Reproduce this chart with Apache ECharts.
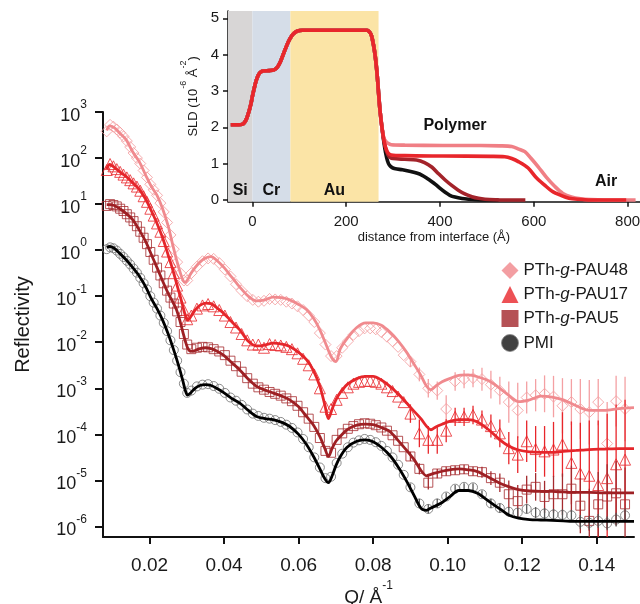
<!DOCTYPE html>
<html><head><meta charset="utf-8">
<script src="https://cdn.jsdelivr.net/npm/echarts@6/dist/echarts.min.js"></script>
<style>html,body{margin:0;padding:0;background:#fff}#c{width:640px;height:604px}</style>
</head><body><div id="c"></div>
<script>
// ---------------- main chart data ----------------
const qData = [0.0085,0.0094,0.0103,0.0112,0.0121,0.0130,0.0139,0.0148,0.0157,0.0166,0.0175,0.0184,0.0193,0.0202,0.0211,0.0220,0.0229,0.0238,0.0247,0.0256,0.0265,0.0274,0.0283,0.0292,0.0301,
0.0312,0.0327,0.0342,0.0357,0.0372,0.0387,0.0402,0.0417,0.0432,0.0447,0.0462,0.0477,0.0492,0.0507,0.0522,0.0537,0.0552,0.0567,0.0582,0.0597,0.0612,0.0627,0.0642,0.0657,0.0672,0.0687,0.0702,0.0717,0.0732,0.0747,0.0762,0.0777,0.0792,0.0807,0.0822,0.0837,0.0852,0.0867,0.0882,
0.0900,0.0924,0.0948,0.0972,0.0996,0.1020,0.1044,0.1068,0.1092,0.1116,0.1140,0.1164,0.1188,0.1212,0.1236,0.1260,0.1284,0.1308,0.1332,0.1356,0.1380,0.1404,0.1428,0.1452,0.1476];

const pau48Data = [3.80e2,5.25e2,4.79e2,4.17e2,3.55e2,2.95e2,2.34e2,1.74e2,1.29e2,1.00e2,7.59e1,5.37e1,3.80e1,2.69e1,2.04e1,1.55e1,1.05e1,6.76,3.98,2.14,1.05,5.50e-1,3.16e-1,2.19e-1,2.19e-1,
3.16e-1,4.37e-1,5.75e-1,6.61e-1,6.46e-1,5.25e-1,3.80e-1,2.69e-1,1.82e-1,1.32e-1,1.00e-1,8.32e-2,7.59e-2,7.94e-2,8.71e-2,8.51e-2,8.32e-2,7.59e-2,6.92e-2,6.03e-2,5.01e-2,3.80e-2,2.75e-2,1.58e-2,8.91e-3,5.01e-3,5.01e-3,7.59e-3,1.05e-2,1.45e-2,1.74e-2,2.00e-2,2.00e-2,1.91e-2,1.66e-2,1.32e-2,1.05e-2,7.94e-3,5.25e-3,
3.80e-3,2.00e-3,1.00e-3,8.91e-4,3.55e-4,1.41e-3,1.58e-3,1.66e-3,1.58e-3,1.20e-3,8.91e-4,5.01e-4,3.31e-4,6.31e-4,7.08e-4,7.59e-4,6.61e-4,4.17e-4,5.01e-4,3.55e-4,3.02e-4,5.01e-4,6.31e-5,5.25e-4,3.55e-4];

const pau17Data = [5.50e1,7.41e1,6.61e1,5.75e1,5.01e1,4.37e1,3.80e1,3.31e1,2.82e1,2.40e1,1.95e1,1.48e1,1.12e1,7.94,5.62,3.80,2.51,1.58,9.33e-1,5.50e-1,3.16e-1,1.70e-1,9.33e-2,5.01e-2,3.16e-2,
3.80e-2,5.37e-2,6.31e-2,6.76e-2,6.03e-2,5.01e-2,3.80e-2,2.75e-2,2.09e-2,1.51e-2,1.10e-2,8.91e-3,8.91e-3,7.59e-3,9.12e-3,8.71e-3,8.51e-3,7.94e-3,7.08e-3,5.75e-3,4.37e-3,3.16e-3,2.00e-3,1.00e-3,3.98e-4,3.55e-4,5.62e-4,7.94e-4,1.05e-3,1.26e-3,1.38e-3,1.45e-3,1.45e-3,1.38e-3,1.26e-3,1.05e-3,8.71e-4,6.61e-4,5.01e-4,
2.82e-4,1.05e-4,7.59e-5,7.59e-5,1.20e-4,2.40e-4,2.40e-4,2.63e-4,2.09e-4,1.51e-4,1.05e-4,5.01e-5,3.63e-5,7.08e-5,4.79e-5,4.27e-5,4.68e-5,6.03e-5,2.40e-5,1.41e-5,1.26e-5,7.94e-6,1.12e-5,2.24e-5,2.82e-5];

const pau5Data = [9.12,1.00e1,9.55,8.91,7.94,7.08,6.03,5.13,4.27,3.31,2.51,1.86,1.35,9.12e-1,6.17e-1,4.17e-1,2.82e-1,1.91e-1,1.32e-1,9.33e-2,6.92e-2,4.68e-2,2.75e-2,1.51e-2,8.91e-3,
7.08e-3,7.59e-3,7.94e-3,7.76e-3,7.08e-3,6.31e-3,5.25e-3,3.98e-3,3.02e-3,2.29e-3,1.66e-3,1.26e-3,1.05e-3,9.33e-4,8.32e-4,7.59e-4,6.92e-4,6.03e-4,5.25e-4,4.17e-4,3.02e-4,2.19e-4,1.45e-4,8.32e-5,4.37e-5,3.98e-5,7.59e-5,1.05e-4,1.32e-4,1.51e-4,1.66e-4,1.74e-4,1.70e-4,1.58e-4,1.41e-4,1.20e-4,9.55e-5,7.24e-5,5.25e-5,
3.31e-5,1.78e-5,8.91e-6,1.41e-5,1.58e-5,1.66e-5,1.74e-5,1.58e-5,1.51e-5,1.12e-5,8.91e-6,5.01e-6,3.55e-6,6.31e-6,7.24e-6,4.37e-6,5.01e-6,5.01e-6,6.61e-6,2.82e-6,1.32e-6,3.02e-6,4.47e-6,5.25e-6,3.02e-6];

const pmiData = [1.05,1.15,1.10,9.77e-1,8.32e-1,7.08e-1,5.89e-1,4.90e-1,3.98e-1,3.24e-1,2.51e-1,1.91e-1,1.41e-1,1.00e-1,7.24e-2,5.37e-2,3.80e-2,2.63e-2,1.74e-2,1.10e-2,6.76e-3,3.98e-3,2.24e-3,1.26e-3,7.94e-4,
8.91e-4,1.10e-3,1.20e-3,1.23e-3,1.12e-3,9.77e-4,7.94e-4,6.31e-4,5.37e-4,4.37e-4,3.47e-4,2.82e-4,2.51e-4,2.29e-4,2.19e-4,2.04e-4,1.86e-4,1.62e-4,1.38e-4,1.10e-4,7.94e-5,5.25e-5,3.16e-5,1.91e-5,1.12e-5,1.20e-5,2.40e-5,3.80e-5,5.25e-5,6.61e-5,7.41e-5,7.94e-5,7.59e-5,6.76e-5,5.62e-5,4.37e-5,3.16e-5,2.19e-5,1.32e-5,
7.08e-6,3.16e-6,2.40e-6,3.16e-6,4.47e-6,6.61e-6,7.24e-6,7.08e-6,5.01e-6,3.16e-6,2.51e-6,2.09e-6,2.00e-6,2.40e-6,2.00e-6,1.91e-6,1.82e-6,1.78e-6,1.74e-6,1.26e-6,1.20e-6,1.32e-6,1.17e-6,1.41e-6,1.74e-6];

// error bar half-widths (decades) for the high-Q points, starting at qData[ERR_START]
const ERR_START = 64;
const pau48Err = [0.12,0.15,0.2,0.2,0.3,0.2,0.2,0.2,0.25,0.3,0.3,0.45,0.6,0.35,0.35,0.4,0.45,0.6,0.5,0.65,0.7,0.5,0.9,0.55,0.7];
const pau17Err = [0.2,0.3,0.3,0.3,0.25,0.2,0.2,0.2,0.2,0.25,0.3,0.35,0.4,0.45,0.5,0.55,0.6,0.7,0.9,1.1,1.2,1.4,1.4,1.3,1.3];
const pau5Err  = [0.1,0.12,0.15,0.1,0.1,0.1,0.1,0.1,0.12,0.15,0.2,0.3,0.35,0.3,0.3,0.35,0.4,0.45,0.5,0.6,0.7,0.7,0.7,0.7,0.8];
const pmiErr   = [0.08,0.1,0.1,0.1,0.08,0.08,0.08,0.08,0.08,0.1,0.1,0.1,0.1,0.1,0.12,0.12,0.12,0.12,0.12,0.15,0.15,0.15,0.15,0.15,0.15];

// fitted curves
const qFit = [0.0085,0.0093,0.0105,0.0120,0.0137,0.0155,0.0173,0.0190,0.0205,0.0220,0.0235,0.0250,0.0262,0.0272,0.0282,0.0290,0.0296,0.0302,0.0310,0.0322,0.0335,0.0350,0.0365,0.0380,0.0400,0.0420,0.0442,0.0465,0.0487,0.0510,0.0531,0.0555,0.0576,0.0600,0.0621,0.0640,0.0657,0.0670,0.0680,0.0690,0.0700,0.0712,0.0730,0.0756,0.0780,0.0800,0.0822,0.0845,0.0868,0.0890,0.0910,0.0928,0.0943,0.0955,0.0968,0.0985,0.1005,0.1030,0.1055,0.1080,0.1110,0.1140,0.1165,0.1190,0.1220,0.1250,0.1280,0.1310,0.1345,0.1380,0.1420,0.1460,0.1500];
const pau48Fit = [3.98e2,5.01e2,4.57e2,3.47e2,2.51e2,1.35e2,8.13e1,4.17e1,2.40e1,1.55e1,7.94,3.31,1.32,6.31e-1,3.31e-1,2.19e-1,2.00e-1,2.29e-1,3.02e-1,4.17e-1,5.50e-1,6.76e-1,7.24e-1,6.03e-1,4.17e-1,2.63e-1,1.58e-1,1.00e-1,7.94e-2,8.32e-2,9.55e-2,9.33e-2,8.32e-2,6.61e-2,5.13e-2,3.31e-2,1.86e-2,1.05e-2,6.61e-3,4.47e-3,3.80e-3,7.24e-3,1.20e-2,2.09e-2,2.63e-2,2.63e-2,2.34e-2,1.66e-2,1.05e-2,6.03e-3,3.31e-3,1.91e-3,1.12e-3,9.33e-4,1.12e-3,1.38e-3,1.62e-3,1.91e-3,1.95e-3,1.78e-3,1.45e-3,1.00e-3,6.92e-4,5.13e-4,5.62e-4,6.76e-4,6.46e-4,5.62e-4,4.17e-4,3.31e-4,3.31e-4,3.63e-4,3.80e-4];
const pau17Fit = [5.75e1,7.24e1,6.31e1,5.01e1,3.98e1,2.88e1,2.04e1,1.26e1,7.08,3.80,1.86,7.76e-1,3.80e-1,1.95e-1,1.00e-1,5.75e-2,3.80e-2,3.02e-2,3.55e-2,5.01e-2,6.31e-2,7.08e-2,6.92e-2,5.62e-2,4.17e-2,2.82e-2,1.86e-2,1.05e-2,8.32e-3,8.71e-3,9.55e-3,9.12e-3,8.13e-3,6.03e-3,4.17e-3,2.40e-3,1.10e-3,4.47e-4,2.19e-4,3.55e-4,5.62e-4,8.13e-4,1.20e-3,1.62e-3,1.82e-3,1.82e-3,1.51e-3,1.10e-3,7.41e-4,4.79e-4,3.16e-4,2.19e-4,1.51e-4,1.26e-4,1.45e-4,1.66e-4,1.91e-4,2.09e-4,2.09e-4,1.86e-4,1.26e-4,7.59e-5,5.50e-5,4.57e-5,4.17e-5,4.07e-5,4.07e-5,4.27e-5,4.47e-5,4.68e-5,4.79e-5,4.90e-5,4.90e-5];
const pau5Fit = [9.77,9.77,9.33,7.94,6.31,4.57,2.69,1.51,7.94e-1,4.17e-1,2.14e-1,1.15e-1,7.59e-2,5.13e-2,2.82e-2,1.58e-2,1.05e-2,7.59e-3,6.31e-3,6.61e-3,7.24e-3,7.59e-3,7.24e-3,6.46e-3,5.13e-3,3.63e-3,2.51e-3,1.58e-3,1.10e-3,9.12e-4,7.94e-4,6.76e-4,5.62e-4,3.98e-4,2.45e-4,1.58e-4,8.91e-5,5.01e-5,3.31e-5,5.01e-5,7.08e-5,9.12e-5,1.26e-4,1.58e-4,1.66e-4,1.62e-4,1.41e-4,1.15e-4,7.24e-5,4.47e-5,2.82e-5,1.66e-5,1.26e-5,1.35e-5,1.45e-5,1.58e-5,1.70e-5,1.78e-5,1.70e-5,1.55e-5,1.17e-5,8.71e-6,7.24e-6,6.31e-6,5.89e-6,5.75e-6,5.75e-6,5.62e-6,5.50e-6,5.50e-6,5.37e-6,5.37e-6,5.37e-6];
const pmiFit = [1.15,1.20,1.10,8.51e-1,6.17e-1,4.17e-1,2.69e-1,1.58e-1,8.71e-2,5.37e-2,3.02e-2,1.51e-2,7.94e-3,4.47e-3,2.40e-3,1.38e-3,8.91e-4,7.08e-4,7.94e-4,1.00e-3,1.15e-3,1.20e-3,1.15e-3,1.00e-3,7.94e-4,6.03e-4,4.79e-4,3.31e-4,2.45e-4,2.19e-4,2.09e-4,1.82e-4,1.48e-4,1.00e-4,6.03e-5,3.31e-5,1.78e-5,1.10e-5,8.91e-6,1.26e-5,2.09e-5,3.31e-5,5.25e-5,7.08e-5,7.59e-5,6.92e-5,5.25e-5,3.47e-5,1.91e-5,9.55e-6,4.68e-6,2.51e-6,2.24e-6,2.51e-6,2.82e-6,3.31e-6,4.37e-6,6.03e-6,6.03e-6,5.25e-6,3.55e-6,2.40e-6,1.74e-6,1.51e-6,1.41e-6,1.38e-6,1.35e-6,1.32e-6,1.29e-6,1.29e-6,1.29e-6,1.29e-6,1.29e-6];

const xTicks = [0.02,0.04,0.06,0.08,0.10,0.12,0.14];
const yTicks = [1e-6,1e-5,1e-4,1e-3,1e-2,1e-1,1,10,100,1000];
const seriesNames = ['PTh-g-PAU48','PTh-g-PAU17','PTh-g-PAU5','PMI'];

// ---------------- inset (SLD profile) data ----------------
const commonDist = [-46,-30,-22,-17,-12,-7,-3,0,4,8,12,16,22,36,46,53,59,65,71,77,83,89,96,107,132,244,250,254,258,262,266,269,272,276];
const commonSLD  = [2.07,2.07,2.08,2.13,2.25,2.45,2.65,2.85,3.08,3.28,3.42,3.50,3.55,3.56,3.58,3.65,3.78,3.98,4.18,4.36,4.50,4.59,4.65,4.67,4.67,4.67,4.62,4.52,4.28,3.95,3.45,2.95,2.48,2.02];
const pmiDist = [280,284,288,292,298,305,320,335,350,362,372,382,391,401,411,421,432,447,461,477,497,525];
const pmiSLD  = [1.62,1.30,1.08,0.96,0.89,0.86,0.83,0.79,0.74,0.68,0.60,0.51,0.42,0.31,0.21,0.13,0.08,0.04,0.02,0.005,0,0];
const pau5Dist = [280,284,289,294,300,325,350,367,383,397,411,425,439,454,468,482,496,518,538,582];
const pau5SLD  = [1.66,1.42,1.25,1.17,1.14,1.12,1.10,1.03,0.90,0.72,0.55,0.40,0.27,0.16,0.09,0.045,0.02,0.005,0,0];
const pau48Dist = [280,284,289,296,325,406,487,528,553,568,581,594,609,627,645,662,680,700,721,751,817];
const pau48SLD  = [1.72,1.62,1.56,1.52,1.51,1.50,1.50,1.49,1.47,1.40,1.33,1.15,0.92,0.62,0.37,0.18,0.08,0.03,0.01,0,0];
const pau17Dist = [280,284,289,296,325,406,508,538,553,568,588,605,623,639,659,675,694,721,797];
const pau17SLD  = [1.68,1.45,1.30,1.24,1.22,1.21,1.20,1.19,1.14,1.05,0.88,0.62,0.41,0.24,0.12,0.05,0.02,0,0];
const layerNames = ['Si','Cr','Au'];
const layerBounds = [[-52,0],[0,81],[81,269]];
const insetXTicks = [0,200,400,600,800];
const insetYTicks = [0,1,2,3,4,5];

// ---------------- build chart ----------------
const FONT = '"Liberation Sans", Arial, Helvetica, sans-serif';
const INK = '#1a1a1a';
const Y_MIN = 5.9e-7, Y_MAX = 1000;

const styles = [
  {data: pau48Data, fit: pau48Fit, err: pau48Err, symbol: 'diamond', size: 11, stroke: '#f3989b', line: '#f08a8e', errColor: '#f4a0a3', icon: 'diamond', fill: '#f0868b'},
  {data: pau17Data, fit: pau17Fit, err: pau17Err, symbol: 'triangle', size: 11, stroke: '#e8262b', line: '#e5262b', errColor: '#e8262b', icon: 'triangle', fill: '#e8262b'},
  {data: pau5Data, fit: pau5Fit, err: pau5Err, symbol: 'rect', size: 9, stroke: '#a52a2e', line: '#9e2024', errColor: '#a52a2e', icon: 'rect', fill: '#a3262a'},
  {data: pmiData, fit: pmiFit, err: pmiErr, symbol: 'circle', size: 9, stroke: '#6f6f6f', line: '#000000', errColor: '#555555', icon: 'circle', fill: '#111111'}
];

function pairs(xs, ys) { return xs.map((x, i) => [x, ys[i]]); }
function errTriples(vals, errs) { return errs.map((e, i) => [qData[ERR_START + i], vals[ERR_START + i], e]); }
function errRender(color) {
  return function (params, api) {
    const q = api.value(0), r = api.value(1), e = api.value(2);
    const k = Math.pow(10, e);
    const lo = Math.max(r / k, Y_MIN), hi = Math.min(r * k, Y_MAX);
    const a = api.coord([q, hi]), b = api.coord([q, lo]);
    return {type: 'line', shape: {x1: a[0], y1: a[1], x2: b[0], y2: b[1]}, style: {stroke: color, lineWidth: 1.3}, silent: true};
  };
}
function sup(v) { return '{b|10}{s|' + Math.round(Math.log10(v)) + '}'; }

const series = [];
styles.forEach((s, i) => {
  series.push({type: 'scatter', name: seriesNames[i], xAxisIndex: 0, yAxisIndex: 0, data: pairs(qData, s.data),
    symbol: s.symbol, symbolSize: s.size, silent: true, z: 2,
    itemStyle: {color: 'rgba(255,255,255,0)', borderColor: s.stroke, borderWidth: 1}});
});
styles.forEach((s, i) => {
  series.push({type: 'custom', name: seriesNames[i] + ' err', xAxisIndex: 0, yAxisIndex: 0, data: errTriples(s.data, s.err),
    encode: {x: 0, y: 1}, renderItem: errRender(s.errColor), silent: true, z: 3});
});
styles.forEach((s, i) => {
  series.push({type: 'line', name: seriesNames[i] + ' fit', xAxisIndex: 0, yAxisIndex: 0, data: pairs(qFit, s.fit),
    smooth: 0.3, symbol: 'none', silent: true, z: 4, lineStyle: {color: s.line, width: 2.8}});
});

const insetSets = [
  {d: pmiDist, v: pmiSLD, c: '#111111'},
  {d: pau5Dist, v: pau5SLD, c: '#a3232a'},
  {d: pau48Dist, v: pau48SLD, c: '#f07f85'},
  {d: pau17Dist, v: pau17SLD, c: '#e8262b'}
];
const layerColors = ['#d8d6d6', '#d5dde8', '#fbe4a6'];
insetSets.forEach((s, i) => {
  const ser = {type: 'line', name: 'SLD ' + i, xAxisIndex: 1, yAxisIndex: 1,
    data: pairs(commonDist.concat(s.d), commonSLD.concat(s.v)), smooth: 0.3, symbol: 'none', silent: true, z: 5,
    lineStyle: {color: s.c, width: 3.6}};
  if (i === 0) {
    ser.markArea = {silent: true, z: 1,
      label: {show: true, position: 'insideBottom', distance: 3, color: '#111', fontWeight: 'bold', fontSize: 16, fontFamily: FONT},
      data: layerBounds.map((b, j) => [{xAxis: b[0], name: layerNames[j], itemStyle: {color: layerColors[j]}}, {xAxis: b[1]}])};
    ser.markPoint = {silent: true, symbol: 'circle', symbolSize: 1, itemStyle: {color: 'rgba(0,0,0,0)'},
      label: {show: true, position: 'inside', color: '#111', fontWeight: 'bold', fontSize: 16, fontFamily: FONT},
      data: [{coord: [432, 2.04], label: {formatter: 'Polymer'}}, {coord: [754, 0.5], label: {formatter: 'Air'}}]};
  }
  series.push(ser);
});

const axisLine = {show: true, onZero: false, lineStyle: {color: '#111', width: 2}};
const insetLine = {show: true, onZero: false, lineStyle: {color: '#111', width: 1.5}};
const supRich = (big, small) => ({
  b: {fontFamily: FONT, fontSize: big, color: INK, lineHeight: big + 8, verticalAlign: 'bottom'},
  s: {fontFamily: FONT, fontSize: small, color: INK, lineHeight: small + 6, verticalAlign: 'top'}
});

const option = {
  animation: false,
  backgroundColor: '#fff',
  textStyle: {fontFamily: FONT},
  grid: [
    {left: 103, top: 112, width: 531, height: 425, containLabel: false, outerBoundsMode: 'none'},
    {left: 228, top: 11, width: 411.8, height: 190.8, containLabel: false, outerBoundsMode: 'none'}
  ],
  legend: {
    orient: 'vertical', left: 496, top: 257, itemWidth: 17, itemHeight: 17, itemGap: 7, selectedMode: false,
    data: styles.map((s, i) => ({name: seriesNames[i], icon: s.icon, itemStyle: {color: s.fill, borderWidth: i === 3 ? 1 : 0, borderColor: '#888'}})),
    formatter: n => n.replace('-g-', '-{i|g}-'),
    textStyle: {fontFamily: FONT, fontSize: 17, color: INK,
      rich: {i: {fontFamily: FONT, fontSize: 17, color: INK, fontStyle: 'italic'}}}
  },
  xAxis: [
    {type: 'value', gridIndex: 0, min: 0.0075, max: 0.15, axisLine: axisLine,
      axisTick: {show: true, customValues: xTicks, length: 7, lineStyle: {color: '#111', width: 2}},
      axisLabel: {customValues: xTicks, formatter: v => v.toFixed(2), fontFamily: FONT, fontSize: 19, color: INK, margin: 19},
      splitLine: {show: false},
      name: '{b|Q/ Å}{s|-1}', nameLocation: 'middle', nameGap: 40,
      nameTextStyle: {rich: supRich(19, 12)}},
    {type: 'value', gridIndex: 1, min: -52, max: 826, axisLine: insetLine,
      axisTick: {show: true, customValues: insetXTicks, length: 5, lineStyle: {color: '#111', width: 1.5}},
      axisLabel: {customValues: insetXTicks, fontFamily: FONT, fontSize: 15, color: INK, margin: 13},
      splitLine: {show: false},
      name: 'distance from interface (Å)', nameLocation: 'middle', nameGap: 29,
      nameTextStyle: {fontFamily: FONT, fontSize: 13, color: INK}}
  ],
  yAxis: [
    {type: 'log', logBase: 10, gridIndex: 0, min: Y_MIN, max: Y_MAX, axisLine: axisLine,
      axisTick: {show: true, customValues: yTicks, length: 8, lineStyle: {color: '#111', width: 2}},
      axisLabel: {customValues: yTicks, formatter: sup, margin: 16, rich: supRich(18, 12)},
      splitLine: {show: false}, minorTick: {show: false},
      name: 'Reflectivity', nameLocation: 'middle', nameGap: 70,
      nameTextStyle: {fontFamily: FONT, fontSize: 20, color: INK}},
    {type: 'value', gridIndex: 1, min: -0.05, max: 5.2, axisLine: insetLine,
      axisTick: {show: true, customValues: insetYTicks, length: 5, lineStyle: {color: '#111', width: 1.5}},
      axisLabel: {customValues: insetYTicks, fontFamily: FONT, fontSize: 15, color: INK, margin: 9},
      splitLine: {show: false},
      name: '{b|SLD (10}{s|-6}{b| Å}{s|-2}{b|)}', nameLocation: 'middle', nameGap: 24,
      nameTextStyle: {padding: [0, 0, 0, 20], rich: supRich(13, 9)}}
  ],
  series: series
};

const chart = echarts.init(document.getElementById('c'), null, {renderer: 'canvas'});
chart.setOption(option);
</script>
</body></html>
